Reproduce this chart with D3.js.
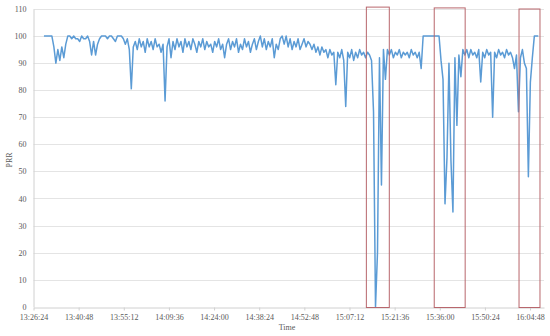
<!DOCTYPE html>
<meta charset="utf-8">
<style>
body { margin: 0; background: #fff; }
text { font-family: "Liberation Serif", serif; font-size: 8px; fill: #595959; }
.grid line { stroke: #e4e4e4; stroke-width: 1px; }
.axis path, .axis line { stroke: #d0d0d0; }
</style>
<svg width="550" height="336"></svg>
<script src="https://d3js.org/d3.v7.min.js"></script>
<script>

// PRR samples, one every 38 s from 13:29:44
var startTime = "13:29:44";
var stepSec = 38;
var prr = [
  100,100,100,100,100, 96, 90, 95, 91, 96,
   92, 97,100,100, 99,100, 99, 99, 98,100,
   99, 99,100, 98, 93, 98, 93, 97, 99,100,
  100,100, 99,100,100, 99, 98,100,100,100,
   99, 97, 99, 95,80.5,96, 98, 95, 99, 96,
   98, 94, 99, 96, 98, 95, 99, 96, 97, 94,
   97, 76, 96, 99, 92, 98, 95, 99, 96, 98,
   94, 99, 96, 98, 95, 99, 97, 94, 98, 96,
   99, 95, 98, 96, 97, 94, 98, 96, 99, 95,
   97, 92, 97, 99, 95, 98, 96, 99, 94, 97,
   95, 99, 96, 98, 94, 97, 99, 95, 98,100,
   96, 99, 95, 98, 96, 99, 92, 97, 95, 99,
  100, 97,100, 96, 99, 95, 98, 96, 99, 95,
   97, 99, 96, 98, 97, 95, 97, 94, 96, 93,
   96, 94, 95, 92, 95, 93, 94, 82, 94, 92,
   95, 91, 74, 94, 92, 95, 91, 94, 92, 95,
   93, 94, 92, 94, 93, 91, 72,  0, 20, 92,
   45, 95, 84, 95, 93, 95, 92, 94, 93, 95,
   92, 94, 93, 94, 92, 95, 93, 94, 92, 94,
   88,100,100,100,100,100,100,100,100,100,
   91, 84, 38, 55, 90, 54, 35, 92, 67, 93,
   85, 95, 93, 95, 92, 95, 93, 94, 92, 95,
   83, 94, 92, 95, 93, 94, 70, 94, 92, 95,
   93, 94, 92, 95, 93, 94, 92, 88, 93, 72,
   92, 95, 90, 88, 48, 83, 92,100,100,100
];

var xTickLabels = ["13:26:24","13:40:48","13:55:12","14:09:36","14:24:00","14:38:24",
                   "14:52:48","15:07:12","15:21:36","15:36:00","15:50:24","16:04:48"];
var xEnd = "16:09:15";
var yTicks = [0,10,20,30,40,50,60,70,80,90,100,110];

// highlighted intervals
var boxStart = ["15:12:35","15:34:14","16:01:17"];
var boxEnd   = ["15:19:54","15:44:06","16:07:58"];
var boxTop   = [110.7, 110.4, 110.0];

function secs(s) {
  var p = s.split(":").map(Number);
  return p[0]*3600 + p[1]*60 + p[2];
}

var svg = d3.select("svg");

var x = d3.scaleLinear()
    .domain([secs(xTickLabels[0]), secs(xEnd)])
    .range([33.5, 544]);
var y = d3.scaleLinear()
    .domain([0, 110])
    .range([306.7, 9]);

var t0 = secs(startTime);
var data = prr.map(function(v, i) { return {t: t0 + i*stepSec, v: v}; });

// gridlines
svg.append("g").attr("class", "grid")
  .selectAll("line").data(yTicks.slice(1)).enter().append("line")
    .attr("x1", x.range()[0]).attr("x2", x.range()[1])
    .attr("y1", function(d) { return Math.round(y(d)) + 0.5; })
    .attr("y2", function(d) { return Math.round(y(d)) + 0.5; });

// axes
var xAxis = d3.axisBottom(x)
    .tickValues(xTickLabels.map(secs))
    .tickFormat(function(d, i) { return xTickLabels[i]; })
    .tickSizeInner(3).tickSizeOuter(0).tickPadding(4);
var gx = svg.append("g").attr("class", "axis")
    .attr("transform", "translate(0," + (Math.round(y(0)) + 0.5) + ")")
    .call(xAxis);
gx.selectAll("text").style("font-family", null).style("font-size", null);

var yAxis = d3.axisLeft(y)
    .tickValues(yTicks)
    .tickSize(0).tickPadding(7);
var gy = svg.append("g").attr("class", "axis")
    .attr("transform", "translate(33.5,0)")
    .call(yAxis);
gy.select(".domain").attr("stroke", "#d9d9d9");

svg.selectAll(".axis text").attr("font-family", null).attr("font-size", null);
svg.selectAll(".axis").attr("font-family", null).attr("font-size", null);

// line
var line = d3.line()
    .x(function(d) { return x(d.t); })
    .y(function(d) { return y(d.v); });

svg.append("path")
    .datum(data)
    .attr("fill", "none")
    .attr("stroke", "#5b9bd5")
    .attr("stroke-width", 1.5)
    .attr("stroke-linejoin", "round")
    .attr("d", line);

// boxes
svg.append("g").selectAll("rect").data(boxStart).enter().append("rect")
    .attr("x", function(d) { return x(secs(d)); })
    .attr("y", function(d, i) { return y(boxTop[i]); })
    .attr("width", function(d, i) { return x(secs(boxEnd[i])) - x(secs(d)); })
    .attr("height", function(d, i) { return y(-0.3) - y(boxTop[i]); })
    .attr("fill", "none")
    .attr("stroke", "#b8666c")
    .attr("stroke-width", 1);

// axis titles
svg.append("text")
    .attr("x", 287).attr("y", 330)
    .attr("text-anchor", "middle")
    .text("Time");
svg.append("text")
    .attr("transform", "translate(12,160) rotate(-90)")
    .attr("text-anchor", "middle")
    .text("PRR");

</script>
